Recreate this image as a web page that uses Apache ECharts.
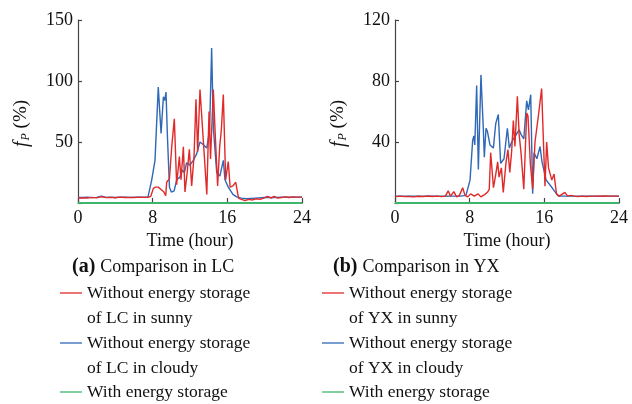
<!DOCTYPE html>
<html>
<head>
<meta charset="utf-8">
<script src="https://cdn.jsdelivr.net/npm/echarts@6/dist/echarts.min.js"></script>
<style>
  html, body { margin: 0; padding: 0; background: #fff; }
  #chart { width: 632px; height: 404px; }
</style>
</head>
<body>
<div id="chart"></div>
<script>
// hours on x, f_P (%) on y
const xTicks = [0, 8, 16, 24];
const lcTicks = [0, 50, 100, 150];
const yxTicks = [0, 40, 80, 120];

// (a) LC
const lcSunny = [
  [0, 4], [0.5, 4.3], [1, 4], [1.5, 4.6], [2, 4.2], [2.5, 5.2], [3, 4.4], [3.5, 4.6], [4, 4.3],
  [4.5, 4.8], [5, 4.5], [5.5, 4.6], [6, 4.4], [6.5, 4.8], [7, 4.6], [7.5, 4.7], [7.8, 5.5],
  [8.07, 12], [8.3, 13], [8.6, 13], [8.9, 11], [9.2, 9], [9.4, 6], [9.5, 17], [9.8, 20],
  [10.04, 46], [10.32, 69], [10.57, 15], [10.86, 38], [11.04, 19], [11.29, 46], [11.46, 9],
  [11.7, 25], [11.93, 44], [12.18, 14], [12.43, 38], [12.64, 85], [12.82, 42], [13.07, 93],
  [13.25, 93], [13.54, 38], [13.8, 7], [14.04, 75], [14.2, 36], [14.5, 93], [14.7, 57],
  [14.96, 14], [15.18, 46], [15.36, 60], [15.57, 89], [15.82, 19], [16.1, 34], [16.3, 13],
  [16.6, 14], [16.9, 17], [17.2, 4], [17.5, 3], [17.9, 2], [18.3, 3], [18.7, 2.5], [19.1, 3.5],
  [19.5, 3], [19.9, 4], [20.3, 5.5], [20.7, 4], [21, 5.5], [21.4, 4], [21.8, 4.5], [22.2, 5],
  [22.6, 4.5], [23, 5], [23.5, 4.8], [24, 4.8]
];
const lcCloudy = [
  [0, 4.5], [0.5, 4.5], [1, 4.8], [1.5, 4.4], [2, 4.6], [2.5, 5.5], [3, 4.6], [3.5, 4.8], [4, 4.5],
  [4.5, 4.8], [5, 4.7], [5.5, 4.6], [6, 4.8], [6.5, 4.7], [7, 4.8], [7.5, 5], [7.7, 6],
  [7.9, 19], [8.25, 35], [8.6, 95], [8.9, 57], [9.15, 87], [9.3, 84], [9.43, 91], [9.57, 57],
  [9.8, 13], [10, 9], [10.3, 10], [10.57, 19], [10.9, 21], [11.2, 27], [11.4, 25], [11.64, 33],
  [12, 31], [12.35, 35], [12.7, 40], [13.07, 50], [13.4, 48], [13.8, 45], [14.1, 60],
  [14.32, 127], [14.5, 62], [14.86, 25], [15.2, 22], [15.57, 35], [15.75, 19], [16.1, 13],
  [16.6, 7], [17, 5], [17.5, 4], [18, 3.5], [19, 4], [20, 4.5], [21, 4.5], [22, 4.8], [23, 4.8], [24, 4.8]
];

// (b) YX
const yxSunny = [
  [0, 4], [0.5, 4.5], [1, 4.2], [1.5, 4.3], [2, 4], [2.5, 4.4], [3, 4.2], [3.5, 4.6], [4, 4.3],
  [4.5, 4.5], [5, 4.2], [5.4, 4.5], [5.7, 8], [5.95, 4.5], [6.3, 7.5], [6.6, 4], [6.9, 5],
  [7.25, 10], [7.5, 5], [7.8, 4], [8.1, 6], [8.5, 4.5], [8.9, 6], [9.2, 4], [9.6, 5.5], [9.9, 7],
  [10.1, 9], [10.25, 33], [10.4, 34], [10.55, 10], [10.8, 19], [11, 27], [11.15, 17], [11.4, 23],
  [11.6, 7], [11.9, 27], [12.1, 35], [12.3, 20], [12.5, 34], [12.68, 54], [12.85, 37],
  [13.11, 70], [13.3, 45], [13.5, 33], [13.8, 9], [14.11, 59], [14.25, 57], [14.5, 26],
  [14.75, 9], [15, 40], [15.4, 59], [15.71, 75], [15.9, 41], [16.07, 11], [16.25, 40],
  [16.45, 23], [16.8, 15], [17.04, 19], [17.3, 6], [17.6, 4.5], [17.8, 5], [18.2, 7], [18.5, 4.5],
  [18.8, 5], [19.2, 4.5], [19.6, 4.2], [20, 4.5], [20.5, 4.3], [21, 4.5], [21.5, 4.5], [22, 4.4],
  [22.5, 4.6], [23, 4.5], [23.5, 4.5], [24, 4.5]
];
const yxCloudy = [
  [0, 4.5], [1, 4.5], [2, 4.4], [3, 4.5], [4, 4.5], [5, 4.4], [6, 4.5], [7, 4.5], [7.6, 5],
  [8.04, 15], [8.32, 41], [8.45, 44], [8.55, 38], [8.75, 77], [8.93, 22], [9.21, 84], [9.46, 49],
  [9.57, 30], [9.75, 49], [9.9, 47], [10.18, 38], [10.54, 36], [10.79, 52], [11.07, 58],
  [11.32, 26], [11.68, 29], [12.04, 49], [12.25, 36], [12.5, 40], [12.7, 39], [13, 45], [13.3, 48],
  [13.5, 45], [13.8, 42], [14.11, 67], [14.3, 61], [14.54, 71], [14.75, 6], [14.9, 33],
  [15.2, 29], [15.54, 37], [15.75, 27], [16.2, 15], [16.71, 11], [17.07, 8], [17.5, 4.5],
  [18, 4.5], [19, 4.5], [20, 4.5], [21, 4.5], [22, 4.5], [23, 4.5], [24, 4.5]
];
const withStorage = [[0, 0], [24, 0]];

const legendLC = ['Without energy storage\nof LC in sunny', 'Without energy storage\nof LC in cloudy', 'With energy storage'];
const legendYX = ['Without energy storage\nof YX in sunny', 'Without energy storage\nof YX in cloudy', 'With energy storage'];

const RED = '#e02a2a', BLUE = '#2f68b6', GREEN = '#3fb56c';
const FONT = '"Liberation Serif", "Times New Roman", serif';
const AXIS = '#444';

var chart = echarts.init(document.getElementById('chart'));

function xAxisOf(idx) {
  return {
    gridIndex: idx, type: 'value', min: xTicks[0], max: xTicks[xTicks.length - 1], interval: 8,
    axisLine: {lineStyle: {color: AXIS, width: 1.2}},
    axisTick: {inside: true, length: 5, lineStyle: {color: AXIS, width: 1.2}},
    axisLabel: {fontFamily: FONT, fontSize: 18, color: '#111', margin: 6},
    splitLine: {show: false},
    name: 'Time (hour)', nameLocation: 'middle', nameGap: 29,
    nameTextStyle: {fontFamily: FONT, fontSize: 18, color: '#111'}
  };
}
function yAxisOf(idx, ticks) {
  return {
    gridIndex: idx, type: 'value', min: 0, max: ticks[ticks.length - 1], interval: ticks[1],
    axisLine: {show: true, lineStyle: {color: AXIS, width: 1.2}},
    axisTick: {show: true, inside: true, length: 4, lineStyle: {color: AXIS, width: 1.2}},
    axisLabel: {fontFamily: FONT, fontSize: 18, color: '#111', margin: 5,
      formatter: function (v) { return v === 0 ? '' : v; }},
    splitLine: {show: false},
    name: '{i|f}{s|P}{n| (%)}', nameLocation: 'middle', nameRotate: 90, nameGap: 46,
    nameTextStyle: {
      fontFamily: FONT, fontSize: 19, color: '#111', padding: [0, 24, 0, 0],
      rich: {
        i: {fontFamily: FONT, fontSize: 20, fontStyle: 'italic', color: '#111'},
        s: {fontFamily: FONT, fontSize: 12, fontStyle: 'italic', color: '#111', padding: [9, 0, 0, 1]},
        n: {fontFamily: FONT, fontSize: 19, color: '#111'}
      }
    }
  };
}
function lineSeries(name, data, color, idx, width) {
  return {
    name: name, type: 'line', data: data, xAxisIndex: idx, yAxisIndex: idx,
    showSymbol: false, clip: false, silent: true,
    lineStyle: {color: color, width: width || 1.4}, itemStyle: {color: color}
  };
}
function legendGraphic(x0, labels) {
  var items = [];
  var colors = [RED, BLUE, GREEN];
  var ys = [293, 343, 392];
  labels.forEach(function (lab, i) {
    items.push({type: 'line', shape: {x1: x0, y1: ys[i], x2: x0 + 22, y2: ys[i]},
      style: {stroke: colors[i], lineWidth: 1.3}});
    lab.split('\n').forEach(function (t, j) {
      items.push({type: 'text', x: x0 + 27, y: ys[i] + j * 25,
        style: {text: t, font: '17.5px ' + FONT, fill: '#111', verticalAlign: 'middle'}});
    });
  });
  return items;
}
function titleOf(left, tag, txt) {
  return {
    text: '{b|' + tag + '} {n|' + txt + '}', left: left, top: 252,
    textStyle: {fontWeight: 'normal', rich: {
      b: {fontFamily: FONT, fontSize: 20, fontWeight: 'bold', color: '#111'},
      n: {fontFamily: FONT, fontSize: 18, fontWeight: 'normal', color: '#111'}
    }}
  };
}

chart.setOption({
  animation: false,
  backgroundColor: '#fff',
  title: [titleOf(67, '(a)', 'Comparison in LC'), titleOf(328, '(b)', 'Comparison in YX')],
  grid: [
    {left: 78, top: 20, width: 224, height: 183},
    {left: 395, top: 20, width: 224, height: 183}
  ],
  xAxis: [xAxisOf(0), xAxisOf(1)],
  yAxis: [yAxisOf(0, lcTicks), yAxisOf(1, yxTicks)],
  series: [
    lineSeries(legendLC[1], lcCloudy, BLUE, 0),
    lineSeries(legendLC[0], lcSunny, RED, 0),
    lineSeries(legendLC[2], withStorage, GREEN, 0, 1.8),
    lineSeries(legendYX[1], yxCloudy, BLUE, 1),
    lineSeries(legendYX[0], yxSunny, RED, 1),
    lineSeries(legendYX[2], withStorage, GREEN, 1, 1.8)
  ],
  graphic: legendGraphic(60, legendLC).concat(legendGraphic(322, legendYX))
});
</script>
</body>
</html>
